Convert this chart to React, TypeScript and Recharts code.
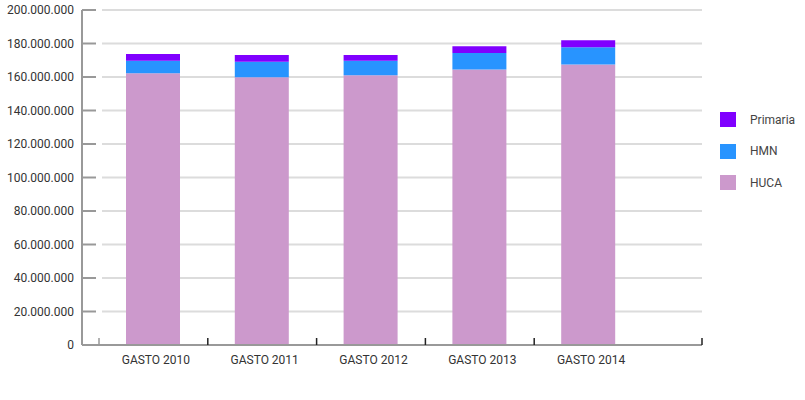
import { Bar, BarChart, CartesianGrid, Legend, XAxis, YAxis } from 'recharts'

const categories = ['GASTO 2010', 'GASTO 2011', 'GASTO 2012', 'GASTO 2013', 'GASTO 2014']
const huca = [162200000, 159800000, 161000000, 164500000, 167400000]
const hmn = [7500000, 9300000, 8700000, 9900000, 10400000]
const primaria = [4100000, 4100000, 3500000, 4000000, 4100000]
const yTicks = [0, 20000000, 40000000, 60000000, 80000000, 100000000, 120000000, 140000000, 160000000, 180000000, 200000000]

const series = [
  { key: 'HUCA', color: '#cc99cc' },
  { key: 'HMN', color: '#2894ff' },
  { key: 'Primaria', color: '#8000ff' },
]

const data = categories.map((name, i) => ({
  name,
  HUCA: huca[i],
  HMN: hmn[i],
  Primaria: primaria[i],
}))

// plot area: x 82..702, y 10..345
const PAD_LEFT = 17
const PAD_RIGHT = 59
const BAND = (620 - PAD_LEFT - PAD_RIGHT) / categories.length
const TEXT = '#333'
const AXIS = '#999'

const fmt = (n: number) => String(n).replace(/\B(?=(\d{3})+(?!\d))/g, '.')

function YTick({ x, y, payload }: any) {
  return (
    <g>
      <text x={x} y={y} dy={4} textAnchor="end" fill={TEXT} fontSize={12}>
        {fmt(payload.value)}
      </text>
      <line x1={x + 8} x2={x + 22} y1={y} y2={y} stroke={AXIS} strokeWidth={2} />
    </g>
  )
}

function XTick({ x, y, payload, index }: any) {
  const last = index === categories.length - 1
  const mark = last ? x + BAND / 2 + PAD_RIGHT : x + BAND / 2
  return (
    <g>
      <text x={x + 2.5} y={y + 19} textAnchor="middle" fill={TEXT} fontSize={12}>
        {payload.value}
      </text>
      {index === 0 && (
        <line x1={x - BAND / 2} x2={x - BAND / 2} y1={y - 7} y2={y} stroke={AXIS} strokeWidth={1.5} />
      )}
      <line x1={mark} x2={mark} y1={y - 7} y2={y} stroke="#222" strokeWidth={1.5} />
    </g>
  )
}

function LegendBox() {
  return (
    <div style={{ fontSize: 12, color: '#444' }}>
      {[...series].reverse().map((s) => (
        <div key={s.key} style={{ display: 'flex', alignItems: 'center', height: 31.5 }}>
          <span style={{ width: 16, height: 15, background: s.color, marginRight: 14 }} />
          <span>{s.key}</span>
        </div>
      ))}
    </div>
  )
}

export default function App() {
  return (
    <div
      style={{
        position: 'absolute',
        left: 0,
        top: 0,
        width: 805,
        height: 400,
        background: '#fff',
        fontFamily: 'Roboto, sans-serif',
      }}
    >
      <BarChart width={805} height={400} data={data} margin={{ top: 10, right: 103, bottom: 25, left: 0 }}>
        <CartesianGrid vertical={false} stroke="#dcdcdc" strokeWidth={2} x={102} width={600} />
        <XAxis
          dataKey="name"
          height={30}
          padding={{ left: PAD_LEFT, right: PAD_RIGHT }}
          axisLine={{ stroke: AXIS, strokeWidth: 2 }}
          tickLine={false}
          tickSize={0}
          tickMargin={0}
          interval={0}
          tick={<XTick />}
        />
        <YAxis
          width={82}
          domain={[0, 200000000]}
          ticks={yTicks}
          interval={0}
          axisLine={{ stroke: AXIS, strokeWidth: 2 }}
          tickLine={false}
          tickSize={0}
          tickMargin={8}
          tick={<YTick />}
        />
        <Legend
          layout="vertical"
          align="center"
          verticalAlign="middle"
          wrapperStyle={{ left: 720, top: 104, width: 'auto' }}
          content={<LegendBox />}
        />
        {series.map((s) => (
          <Bar key={s.key} dataKey={s.key} stackId="a" fill={s.color} barSize={54} isAnimationActive={false} />
        ))}
      </BarChart>
    </div>
  )
}
